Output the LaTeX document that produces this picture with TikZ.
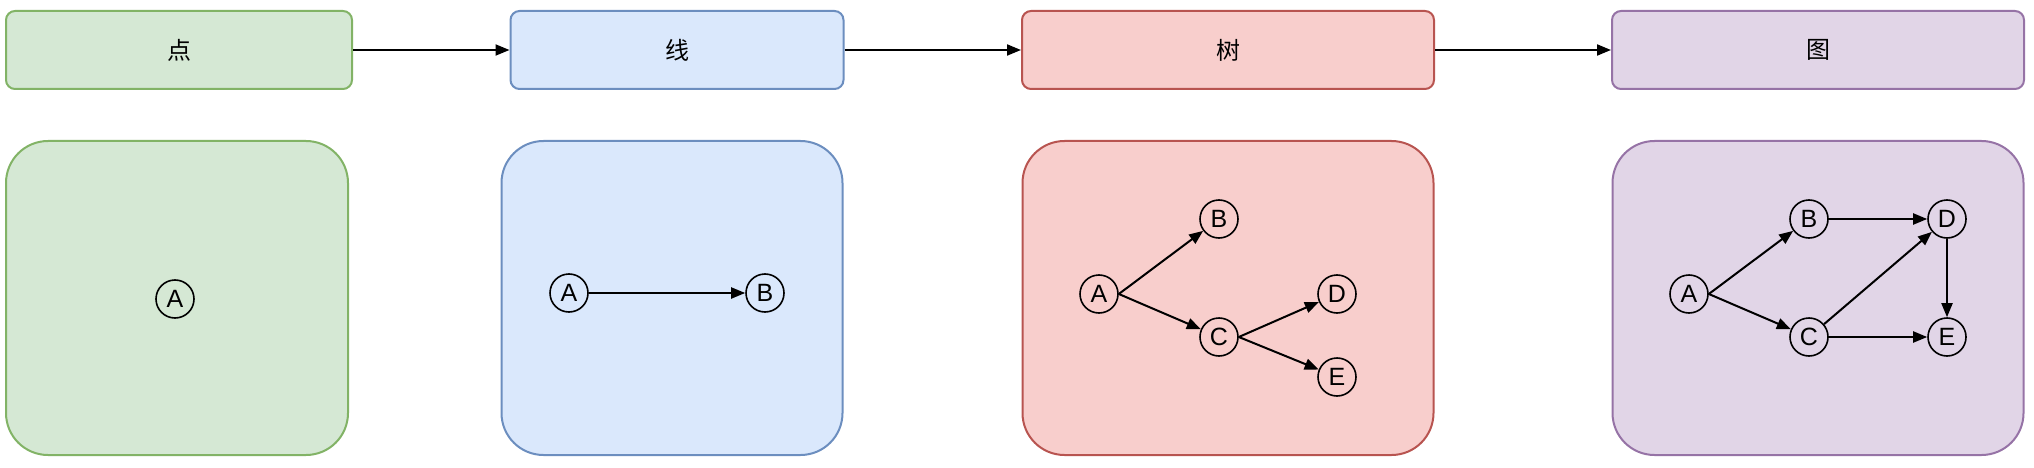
\documentclass[tikz,border=0pt]{standalone}
\usepackage{fontspec}
\setmainfont{Liberation Sans}
\newfontfamily\cjk{Noto Sans CJK SC}
\usetikzlibrary{arrows.meta}
\definecolor{greenfill}{HTML}{D5E8D4}
\definecolor{greenline}{HTML}{82B366}
\definecolor{bluefill}{HTML}{DAE8FC}
\definecolor{blueline}{HTML}{6C8EBF}
\definecolor{redfill}{HTML}{F8CECC}
\definecolor{redline}{HTML}{B85450}
\definecolor{purplefill}{HTML}{E1D5E7}
\definecolor{purpleline}{HTML}{9673A6}

\begin{document}
\begin{tikzpicture}[x=1pt,y=-1pt]
\useasboundingbox (0,0) rectangle (2034,468);
\begin{scope}[every node/.style={draw,rounded corners=9pt,line width=2pt,minimum height=78pt,font=\cjk\fontsize{24}{24}\selectfont}]
    \node[fill=greenfill,draw=greenline,minimum width=346pt] (dian) at (179,50) {点};
    \node[fill=bluefill,draw=blueline,minimum width=333pt] (xian) at (677,50) {线};
    \node[fill=redfill,draw=redline,minimum width=412pt] (shu) at (1228,50) {树};
    \node[fill=purplefill,draw=purpleline,minimum width=412pt] (tu) at (1818,50) {图};
\end{scope}

\begin{scope}[every node/.style={draw,rounded corners=42pt,line width=2pt,minimum height=314pt}]
    \node[fill=greenfill,draw=greenline,minimum width=342pt] (dianpanel) at (177,298) {};
    \node[fill=bluefill,draw=blueline,minimum width=341pt] (xianpanel) at (672,298) {};
    \node[fill=redfill,draw=redline,minimum width=411pt] (shupanel) at (1228,298) {};
    \node[fill=purplefill,draw=purpleline,minimum width=411pt] (tupanel) at (1818,298) {};
\end{scope}

\begin{scope}[every node/.style={circle,draw,line width=1.6pt,minimum size=38pt,inner sep=0pt,font=\fontsize{25}{25}\selectfont}]
    \node (A0) at (175,299) {A};
    \node (A1) at (569,293) {A};
    \node (B1) at (765,293) {B};
    \node (A2) at (1099,294) {A};
    \node (B2) at (1219,219) {B};
    \node (C2) at (1219,337) {C};
    \node (D2) at (1337,294) {D};
    \node (E2) at (1337,377) {E};
    \node (A3) at (1689,294) {A};
    \node (B3) at (1809,219) {B};
    \node (C3) at (1809,337) {C};
    \node (D3) at (1947,219) {D};
    \node (E3) at (1947,337) {E};
\end{scope}

\begin{scope}[>={Triangle[length=14pt,width=11pt]},
              every edge/.style={draw,->,line width=2pt}]
    \path (dian) edge (xian);
    \path (xian) edge (shu);
    \path (shu) edge (tu);
    \path (A1) edge (B1);
    \path (A2.east) edge (B2);
    \path (A2.east) edge (C2);
    \path (C2.east) edge (D2);
    \path (C2.east) edge (E2);
    \path (A3.east) edge (B3);
    \path (A3.east) edge (C3);
    \path (B3) edge (D3);
    \path (C3) edge (D3);
    \path (C3) edge (E3);
    \path (D3) edge (E3);
\end{scope}
\end{tikzpicture}
\end{document}
